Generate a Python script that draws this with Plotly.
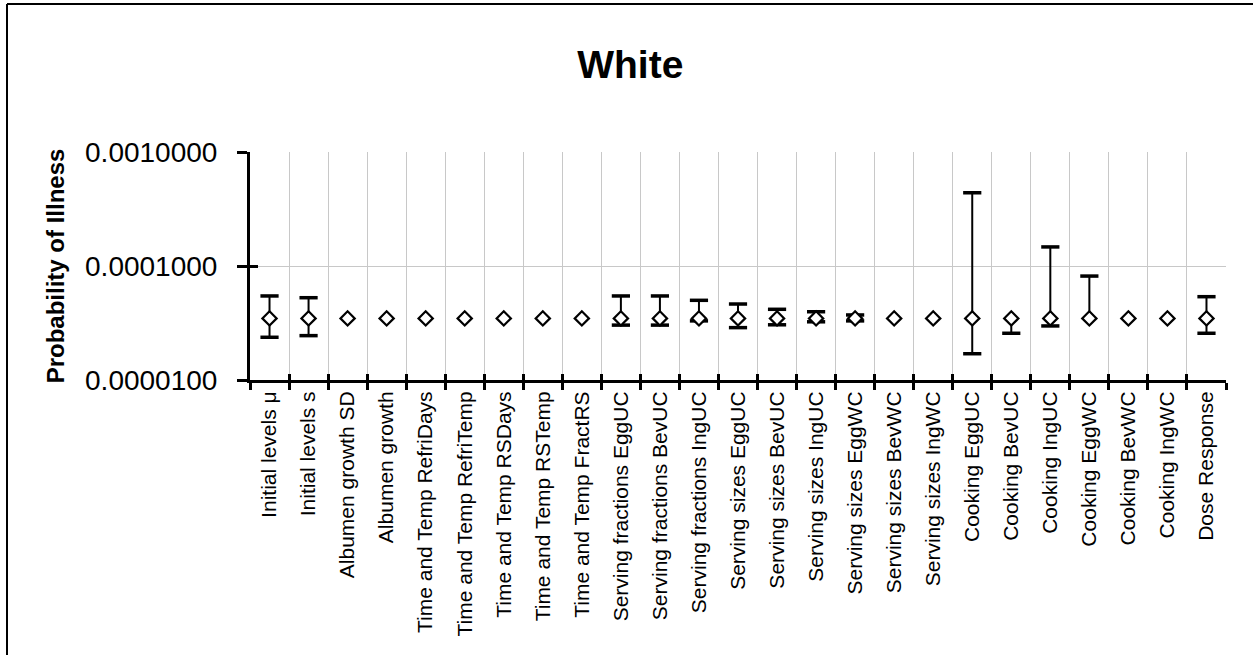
import plotly.graph_objects as go

# Sensitivity inputs along the x axis
categories = [
    "Initial levels μ", "Initial levels s", "Albumen growth SD", "Albumen growth",
    "Time and Temp RefriDays", "Time and Temp RefriTemp", "Time and Temp RSDays",
    "Time and Temp RSTemp", "Time and Temp FractRS",
    "Serving fractions EggUC", "Serving fractions BevUC", "Serving fractions IngUC",
    "Serving sizes EggUC", "Serving sizes BevUC", "Serving sizes IngUC",
    "Serving sizes EggWC", "Serving sizes BevWC", "Serving sizes IngWC",
    "Cooking EggUC", "Cooking BevUC", "Cooking IngUC", "Cooking EggWC",
    "Cooking BevWC", "Cooking IngWC", "Dose Response",
]

# Baseline probability of illness
baseline = [3.47e-5] * 25

# Upper / lower bounds of each input's range
upper = [5.46e-5, 5.27e-5, 3.47e-5, 3.47e-5, 3.47e-5, 3.47e-5, 3.47e-5, 3.47e-5, 3.47e-5,
         5.46e-5, 5.46e-5, 5.0e-5, 4.64e-5, 4.17e-5, 3.97e-5, 3.72e-5, 3.47e-5, 3.47e-5,
         4.39e-4, 3.47e-5, 1.47e-4, 8.16e-5, 3.47e-5, 3.47e-5, 5.38e-5]
lower = [2.37e-5, 2.45e-5, 3.47e-5, 3.47e-5, 3.47e-5, 3.47e-5, 3.47e-5, 3.47e-5, 3.47e-5,
         3.03e-5, 3.03e-5, 3.3e-5, 2.88e-5, 3.05e-5, 3.24e-5, 3.3e-5, 3.47e-5, 3.47e-5,
         1.70e-5, 2.57e-5, 2.98e-5, 3.47e-5, 3.47e-5, 3.47e-5, 2.57e-5]

y_tickvals = [1e-5, 1e-4, 1e-3]
y_ticktext = ["0.0000100", "0.0001000", "0.0010000"]

FONT = "Liberation Sans, Arial, sans-serif"

err_plus = [u - b for u, b in zip(upper, baseline)]
err_minus = [b - l for b, l in zip(baseline, lower)]

fig = go.Figure()

# Range stems
fig.add_trace(go.Scatter(
    x=categories, y=baseline, mode="markers",
    marker=dict(size=1, color="rgba(0,0,0,0)"),
    error_y=dict(type="data", symmetric=False, array=err_plus, arrayminus=err_minus,
                 color="black", thickness=2, width=0),
    hoverinfo="skip", showlegend=False,
))

# End caps of the ranges
cap_x, cap_y = [], []
for c, b, u, l in zip(categories, baseline, upper, lower):
    if u != b:
        cap_x.append(c)
        cap_y.append(u)
    if l != b:
        cap_x.append(c)
        cap_y.append(l)
fig.add_trace(go.Scatter(
    x=cap_x, y=cap_y, mode="markers",
    marker=dict(symbol="line-ew", size=13, line=dict(color="black", width=3.5)),
    hoverinfo="skip", showlegend=False,
))

# Baseline points
fig.add_trace(go.Scatter(
    x=categories, y=baseline, mode="markers",
    marker=dict(symbol="diamond", size=11, color="white",
                line=dict(color="black", width=2.2)),
    showlegend=False,
))

# Overlay axes carrying the inner half of the cross ticks
fig.add_trace(go.Scatter(
    x=categories, y=baseline, xaxis="x2", yaxis="y2", mode="markers",
    marker=dict(size=1, color="rgba(0,0,0,0)"), hoverinfo="skip", showlegend=False,
))

fig.update_layout(
    width=1253, height=655,
    margin=dict(l=250, r=27, t=152, b=275),
    paper_bgcolor="white", plot_bgcolor="white",
    font=dict(family=FONT, color="black"),
    title=dict(text="<b>White</b>", x=0.503, xref="container", xanchor="center",
               y=1 - 64 / 655, yref="container", yanchor="middle",
               font=dict(size=39, family=FONT, color="black")),
    xaxis=dict(
        type="category", categoryorder="array", categoryarray=categories,
        range=[-0.5, 24.5], tickson="boundaries",
        ticks="outside", ticklen=7, tickwidth=3, tickcolor="black",
        showline=True, linecolor="black", linewidth=3,
        showgrid=True, gridcolor="#c8c8c8", gridwidth=1,
        tickangle=-90, tickfont=dict(size=21, family=FONT, color="black"),
        zeroline=False,
    ),
    yaxis=dict(
        type="log", range=[-5, -3],
        tickvals=y_tickvals, ticktext=y_ticktext,
        ticks="outside", ticklen=10, tickwidth=3, tickcolor="black",
        ticklabelstandoff=14,
        showline=True, linecolor="black", linewidth=3,
        showgrid=True, gridcolor="#c8c8c8", gridwidth=1,
        tickfont=dict(size=28, family=FONT, color="black"),
        title=dict(text="<b>Probability of Illness</b>", standoff=14,
                   font=dict(size=24, family=FONT, color="black")),
        zeroline=False,
    ),
    xaxis2=dict(
        type="category", categoryorder="array", categoryarray=categories,
        range=[-0.5, 24.5], tickson="boundaries", overlaying="x", anchor="y2",
        ticks="inside", ticklen=6, tickwidth=3, tickcolor="black",
        showticklabels=False, showgrid=False, showline=False, zeroline=False,
    ),
    yaxis2=dict(
        type="log", range=[-5, -3], overlaying="y", anchor="x2",
        tickvals=y_tickvals, ticks="inside", ticklen=8, tickwidth=3, tickcolor="black",
        showticklabels=False, showgrid=False, showline=False, zeroline=False,
    ),
)

# Frame edges along the left and top of the chart
frame_left = (7 - 250) / 976
frame_top = (380 - 4) / 228
fig.add_shape(type="line", xref="paper", yref="paper",
              x0=frame_left, x1=frame_left, y0=(380 - 700) / 228, y1=frame_top,
              line=dict(color="black", width=2), layer="above")
fig.add_shape(type="line", xref="paper", yref="paper",
              x0=frame_left, x1=(1300 - 250) / 976, y0=frame_top, y1=frame_top,
              line=dict(color="black", width=2), layer="above")

fig.write_html("out.html")
